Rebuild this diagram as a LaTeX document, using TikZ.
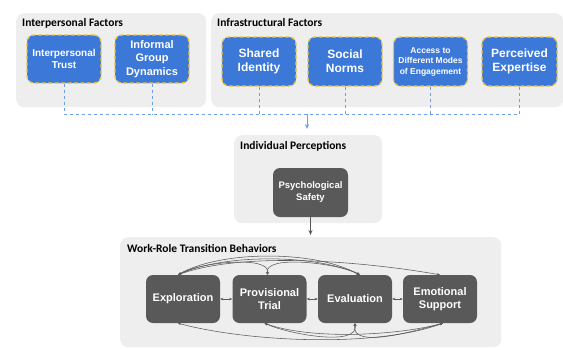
\documentclass[tikz,border=0pt]{standalone}
\usepackage{fontspec}
\setmainfont{Liberation Sans}
\newfontfamily\headfont{Carlito}
\usetikzlibrary{arrows.meta}

\definecolor{factorblue}{HTML}{3C78D8}
\definecolor{factorgold}{HTML}{F1C232}
\definecolor{panelgray}{HTML}{EEEEEE}
\definecolor{stagegray}{HTML}{595959}
\definecolor{linkblue}{HTML}{6D9EEB}

\begin{document}
\begin{tikzpicture}[x=1pt, y=-1pt,
    panel/.style={fill=panelgray, rounded corners=8pt, anchor=north west, inner sep=0pt},
    paneltitle/.style={anchor=base west, inner sep=0pt, font=\headfont\bfseries\fontsize{11.5}{13}\selectfont},
    factor/.style={fill=factorblue, draw=factorgold, dash pattern=on 4pt off 2.5pt, line width=1.3pt,
        rounded corners=7pt, text=white, align=center, inner sep=1pt,
        minimum width=74pt, minimum height=48pt, font=\bfseries\fontsize{12}{14}\selectfont},
    stage/.style={fill=stagegray, rounded corners=7pt, text=white, align=center, inner sep=1pt,
        minimum width=74pt, minimum height=48pt, font=\bfseries\fontsize{11}{13}\selectfont},
    link/.style={draw=linkblue, dashed, line width=0.8pt},
    feedback/.style={draw=stagegray, line width=0.55pt,
        {Stealth[length=3pt,width=2.5pt]}-{Stealth[length=3pt,width=2.5pt]}},
]
    \useasboundingbox (0,0) rectangle (563,349);

    % Interpersonal factors
    \node[panel, minimum width=190, minimum height=94] (interp) at (16,13) {};
    \node[paneltitle] at (22,26) {Interpersonal Factors};
    \node[factor, font=\bfseries\fontsize{10}{12}\selectfont] (trust) at (64,59) {Interpersonal\\Trust};
    \node[factor, font=\bfseries\fontsize{11}{13.5}\selectfont] (informal) at (152,59) {Informal\\Group\\Dynamics};

    % Infrastructural factors
    \node[panel, minimum width=352, minimum height=94] (infra) at (211,13) {};
    \node[paneltitle] at (217,26) {Infrastructural Factors};
    \node[factor, minimum height=49] (shared) at (259,61.5) {Shared\\Identity};
    \node[factor, minimum height=49] (social) at (345,61.5) {Social\\Norms};
    \node[factor, minimum height=49, font=\bfseries\fontsize{8.5}{10.5}\selectfont] (access) at (430.5,61.5) {Access to\\Different Modes\\of Engagement};
    \node[factor, minimum height=49, minimum width=75] (expertise) at (519.5,61.5) {Perceived\\Expertise};

    % Dashed bus into the perceptions panel
    \coordinate (bus) at (307,114);
    \draw[link] (trust.south) -- (trust.south |- bus);
    \draw[link] (informal.south) -- (informal.south |- bus);
    \draw[link] (shared.south) -- (shared.south |- bus);
    \draw[link] (social.south) -- (social.south |- bus);
    \draw[link] (access.south) -- (access.south |- bus);
    \draw[link] (expertise.south) -- (expertise.south |- bus);
    \draw[link] (trust.south |- bus) -- (expertise.south |- bus);

    % Individual perceptions
    \node[panel, minimum width=148, minimum height=88] (percep) at (234,135) {};
    \node[paneltitle] at (240,149) {Individual Perceptions};
    \node[stage, minimum width=75, minimum height=49, font=\bfseries\fontsize{9.5}{12}\selectfont] (safety) at (310.5,192.5) {Psychological\\Safety};
    \draw[link, solid, -{Stealth[length=5pt,width=4pt]}, shorten >=6pt] (bus) -- (bus |- percep.north);

    % Work-role transition behaviors
    \node[panel, minimum width=381, minimum height=110] (behav) at (120,237) {};
    \node[paneltitle] at (127,252) {Work-Role Transition Behaviors};
    \draw[draw=stagegray, line width=0.8pt, -{Stealth[length=5pt,width=4pt]}, shorten >=2pt] (safety.south) -- (safety.south |- behav.north);

    \node[stage] (expl) at (183,299) {Exploration};
    \node[stage] (prov) at (269.5,299) {Provisional\\Trial};
    \node[stage] (eval) at (355,299) {Evaluation};
    \node[stage] (emot) at (440,299) {Emotional\\Support};

    % neighbours
    \draw[feedback] (expl) -- (prov);
    \draw[feedback] (prov) -- (eval);
    \draw[feedback] (eval) -- (emot);

    % arcs over the top
    \draw[feedback] ([xshift=-5pt]expl.north) to[out=20, in=170, looseness=0.7] (emot.north);
    \draw[feedback] ([xshift=-5pt]expl.north) to[out=25, in=155, looseness=0.7] ([xshift=5pt]eval.north);
    \draw[feedback] ([xshift=-5pt]expl.north) to[out=30, in=150, looseness=0.7] ([xshift=4pt]eval.north);
    \draw[feedback] ([xshift=-4pt]expl.north) to[out=35, in=80, looseness=0.6] ([xshift=-2pt]prov.north);
    \draw[feedback] ([xshift=-2pt]prov.north) to[out=100, in=150, looseness=0.6] ([xshift=5pt]eval.north);

    % arcs underneath
    \draw[feedback] ([xshift=-5pt]expl.south) to[out=-15, in=-160, looseness=0.7] ([xshift=3pt]emot.south);
    \draw[feedback] ([xshift=-5pt]prov.south) to[out=-25, in=-80, looseness=0.7] (eval.south);
    \draw[feedback] (eval.south) to[out=-100, in=-165, looseness=0.8] ([xshift=3pt]emot.south);
    \draw[feedback] ([xshift=-5pt]prov.south) to[out=-20, in=-165, looseness=0.7] ([xshift=3pt]emot.south);

\end{tikzpicture}
\end{document}
